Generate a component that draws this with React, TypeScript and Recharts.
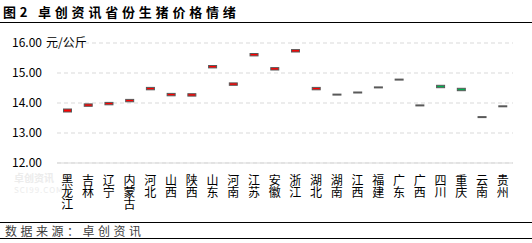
import { BarChart, Bar, XAxis, YAxis, CartesianGrid } from 'recharts'

const provinces = [
  '黑龙江', '吉林', '辽宁', '内蒙古', '河北', '山西', '陕西', '山东', '河南', '江苏', '安徽',
  '浙江', '湖北', '湖南', '江西', '福建', '广东', '广西', '四川', '重庆', '云南', '贵州',
]
const openPrices = [
  13.7, 13.89, 13.94, 14.04, 14.44, 14.24, 14.23, 15.17, 14.59, 15.57, 15.1,
  15.7, 14.44, 14.28, 14.35, 14.52, 14.78, 13.92, 14.59, 14.49, 13.53, 13.89,
]
const closePrices = [
  13.8, 13.97, 14.02, 14.12, 14.52, 14.32, 14.31, 15.25, 14.67, 15.65, 15.18,
  15.78, 14.52, 14.28, 14.35, 14.52, 14.78, 13.92, 14.51, 14.41, 13.53, 13.89,
]
const yTicks = [12, 13, 14, 15, 16]

const FONT = '"Noto Sans CJK SC", "Noto Sans", sans-serif'

const data = provinces.map((name, i) => ({
  name,
  open: openPrices[i],
  close: closePrices[i],
  range: [Math.min(openPrices[i], closePrices[i]), Math.max(openPrices[i], closePrices[i])],
}))

function Candle(props: any) {
  const { x, y, width, height, payload } = props
  const top = Math.min(y, y + height)
  const h = Math.abs(height)
  if (payload.open === payload.close || h < 1) {
    return <rect x={x} y={top - 1} width={width} height={2} fill="#595959" />
  }
  const fill = payload.close > payload.open ? '#ff0000' : '#00b050'
  return (
    <rect x={x + 0.5} y={top} width={width - 1} height={h} fill={fill} stroke="#595959" strokeWidth={1} />
  )
}

// 竖排省份名，每个字单独一个 text
function ProvinceTick(props: any) {
  const { x, y, payload } = props
  const chars = String(payload.value).split('')
  return (
    <g>
      {chars.map((c, i) => (
        <text
          key={i}
          x={x}
          y={y + 3 + i * 12.3}
          writingMode="tb"
          textAnchor="start"
          fontSize={12}
          fill="#000"
          fontFamily={FONT}
        >
          {c}
        </text>
      ))}
    </g>
  )
}

function PriceTick(props: any) {
  const { x, y, payload } = props
  return (
    <g>
      <text x={x} y={y} dy={4} textAnchor="end" fontSize={12} fill="#000" fontFamily={FONT}>
        {payload.value.toFixed(2)}
      </text>
      {payload.value === 16 && (
        <text x={x + 4} y={y} dy={4} textAnchor="start" fontSize={12} fill="#000" fontFamily={FONT}>
          元/公斤
        </text>
      )}
    </g>
  )
}

export default function App() {
  return (
    <div style={{ position: 'absolute', left: 0, top: 0, width: 532, height: 243, background: '#fff', fontFamily: FONT }}>
      <div
        style={{
          position: 'absolute', left: 3, top: 3, fontSize: 13, fontWeight: 'bold',
          letterSpacing: 3.8, lineHeight: '17px', whiteSpace: 'nowrap',
        }}
      >
        图2 卓创资讯省份生猪价格情绪
      </div>
      <div style={{ position: 'absolute', left: 0, top: 22, width: 532, height: 1, background: '#000' }} />
      <div style={{ position: 'absolute', left: 14, top: 172, color: '#ececec', fontSize: 10, fontWeight: 'bold', lineHeight: '12px' }}>
        卓创资讯
      </div>
      <div style={{ position: 'absolute', left: 14, top: 185, color: '#ececec', fontSize: 8, letterSpacing: 1, lineHeight: '10px' }}>
        SCI99.COM
      </div>
      <div style={{ position: 'absolute', left: 0, top: 0 }}>
        <BarChart width={532} height={243} data={data} margin={{ top: 43, right: 19, bottom: 30, left: 0 }}>
          <CartesianGrid vertical={false} stroke="#d9d9d9" strokeDasharray="4 3" />
          <XAxis
            dataKey="name"
            interval={0}
            height={50}
            axisLine={{ stroke: '#d9d9d9' }}
            tickLine={false}
            tick={<ProvinceTick />}
          />
          <YAxis
            domain={[12, 16]}
            ticks={yTicks}
            width={57}
            axisLine={false}
            tickLine={false}
            tickMargin={9}
            tick={<PriceTick />}
          />
          <Bar dataKey="range" barSize={9} shape={<Candle />} isAnimationActive={false} />
        </BarChart>
      </div>
      <div style={{ position: 'absolute', left: 0, top: 222, width: 532, height: 1, background: '#000' }} />
      <div
        style={{
          position: 'absolute', left: 5, top: 223, fontSize: 12, color: '#404040',
          letterSpacing: 3.5, lineHeight: '15px', whiteSpace: 'nowrap',
        }}
      >
        数据来源：卓创资讯
      </div>
      <div style={{ position: 'absolute', left: 0, top: 238, width: 532, height: 1, background: '#000' }} />
    </div>
  )
}
